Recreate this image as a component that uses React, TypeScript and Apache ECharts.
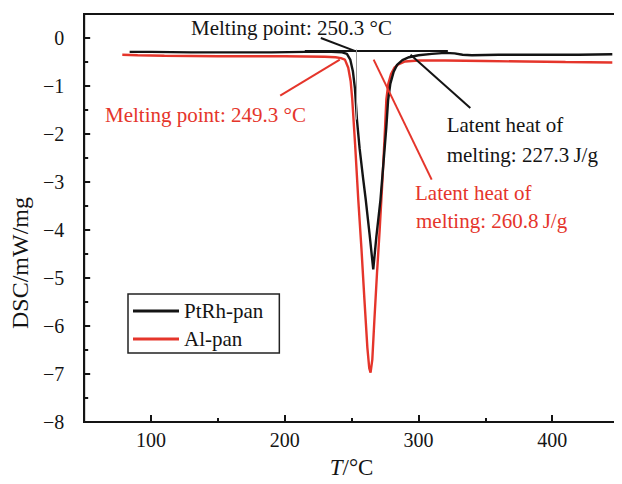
import React, { useEffect, useRef } from "react";
import * as echarts from "echarts";

// ---- data ----
const ptrhT = [84, 100, 130, 160, 190, 215, 235, 243, 246.5, 249, 251, 252.5, 254, 256, 258.5, 260.6, 263.5, 266.2, 268.5, 271.6, 274, 276, 277.3, 279, 281.5, 284, 288, 293, 300, 310, 320, 327, 333, 340, 360, 380, 400, 420, 445];
const ptrhV = [-0.29, -0.29, -0.3, -0.3, -0.3, -0.29, -0.29, -0.3, -0.33, -0.45, -0.7, -1.05, -1.7, -2.3, -2.9, -3.37, -4.1, -4.82, -4.15, -3.37, -2.55, -1.85, -1.3, -0.95, -0.7, -0.56, -0.46, -0.4, -0.36, -0.33, -0.31, -0.32, -0.35, -0.36, -0.35, -0.35, -0.35, -0.35, -0.34];

const alT = [78.5, 90, 110, 150, 200, 230, 238, 242, 245, 247.5, 249.3, 250.5, 252.6, 255, 257.4, 259.6, 261.8, 263.2, 264.2, 265.5, 267, 269, 271, 273, 274.8, 276, 277.5, 279.5, 282, 285, 290, 300, 320, 350, 380, 410, 445];
const alV = [-0.35, -0.36, -0.37, -0.38, -0.38, -0.39, -0.4, -0.42, -0.45, -0.62, -0.9, -1.28, -2.2, -3.37, -4.4, -5.45, -6.45, -6.88, -6.97, -6.7, -5.9, -4.9, -4.0, -3.0, -2.0, -1.28, -0.95, -0.75, -0.62, -0.55, -0.49, -0.47, -0.47, -0.48, -0.49, -0.5, -0.51];

const seriesNames = ["PtRh-pan", "Al-pan"];

// annotation leader lines, in data coordinates [T, DSC]
const blackMeltLeader = [[227, 0.0], [253.3, -0.28]];
const blackLatentLeader = [[294.1, -0.35], [338.8, -1.46]];
const blackBaseline = [[215, -0.27], [322, -0.27]];
const greyOnset = [[253.3, -0.24], [253.3, -1.7]];
const redMeltLeader = [[196.6, -1.2], [241.2, -0.45]];
const redLatentLeader = [[266.5, -0.45], [309.9, -2.95]];

const FONT = '"Liberation Serif", "Times New Roman", serif';
const BLACK = "#141414";
const RED = "#e5352b";

const seg = (p: number[][], style?: any) => [
  style ? { coord: p[0], lineStyle: style } : { coord: p[0] },
  { coord: p[1] },
];

export default function App() {
  const ref = useRef<HTMLDivElement>(null);
  useEffect(() => {
    if (!ref.current) return;
    const chart = echarts.init(ref.current, undefined, { renderer: "svg" });
    const txt = (text: string, x: number, y: number, color: string, size = 21) => ({
      type: "text",
      x,
      y,
      silent: true,
      style: { text, fill: color, font: `${size}px ${FONT}`, align: "left", verticalAlign: "middle" },
    });
    const tickStyle = { color: BLACK, width: 2 };
    chart.setOption({
      animation: false,
      backgroundColor: "#fff",
      grid: {
        left: 76,
        right: -7.8,
        top: 14,
        bottom: 61.3,
        show: true,
        borderColor: BLACK,
        borderWidth: 2,
        containLabel: false,
      },
      legend: {
        orient: "vertical",
        left: 128,
        top: 294,
        icon: "rect",
        itemWidth: 46,
        itemHeight: 3,
        itemGap: 6,
        padding: [6, 16, 3, 5],
        borderColor: "#222",
        borderWidth: 1.5,
        borderRadius: 0,
        data: seriesNames,
        textStyle: { fontFamily: FONT, fontSize: 21, color: BLACK, lineHeight: 22 },
      },
      xAxis: [
        {
          type: "value",
          min: 50,
          max: 450,
          splitNumber: 4,
          name: "{i|T}/°C",
          nameLocation: "middle",
          nameGap: 34,
          nameTextStyle: {
            fontFamily: FONT,
            fontSize: 23,
            color: BLACK,
            rich: { i: { fontFamily: FONT, fontSize: 23, fontStyle: "italic", color: BLACK } },
          },
          axisLine: { show: true, onZero: false, lineStyle: { color: BLACK, width: 2 } },
          axisTick: { show: true, inside: true, length: 7, lineStyle: tickStyle },
          axisLabel: {
            fontFamily: FONT,
            fontSize: 20,
            color: BLACK,
            margin: 8,
            formatter: (v: number) => (v % 100 === 0 ? String(v) : ""),
          },
          splitLine: { show: false },
        },
        {
          type: "value",
          min: 50,
          max: 450,
          interval: 100,
          position: "bottom",
          axisLine: { show: true, onZero: false, lineStyle: { color: BLACK, width: 2 } },
          axisTick: { show: true, inside: true, length: 4, lineStyle: tickStyle },
          axisLabel: { show: false },
          splitLine: { show: false },
        },
      ],
      yAxis: [
        {
          type: "value",
          min: -8,
          max: 0.5,
          interval: 1,
          name: "DSC/mW/mg",
          nameLocation: "middle",
          nameGap: 40,
          nameTextStyle: { fontFamily: FONT, fontSize: 24, color: BLACK, padding: [0, 90, 0, 0] },
          axisLine: { show: true, onZero: false, lineStyle: { color: BLACK, width: 2 } },
          axisTick: { show: true, inside: true, length: 6, lineStyle: tickStyle },
          axisLabel: {
            fontFamily: FONT,
            fontSize: 20,
            color: BLACK,
            margin: 20,
            formatter: (v: number) => (Number.isInteger(v) ? String(v).replace("-", "\u2212") : ""),
          },
          splitLine: { show: false },
        },
        {
          type: "value",
          min: -8,
          max: 0.5,
          interval: 0.5,
          position: "left",
          axisLine: { show: true, onZero: false, lineStyle: { color: BLACK, width: 2 } },
          axisTick: { show: true, inside: true, length: 4, lineStyle: tickStyle },
          axisLabel: { show: false },
          splitLine: { show: false },
        },
      ],
      series: [
        {
          name: seriesNames[0],
          type: "line",
          xAxisIndex: 0,
          yAxisIndex: 0,
          data: ptrhT.map((t, i) => [t, ptrhV[i]]),
          showSymbol: false,
          symbol: "none",
          lineStyle: { color: BLACK, width: 2.4 },
          itemStyle: { color: BLACK },
          z: 3,
          markLine: {
            silent: true,
            symbol: ["none", "none"],
            label: { show: false },
            lineStyle: { color: BLACK, width: 2, type: "solid" },
            data: [
              seg(blackMeltLeader),
              seg(blackLatentLeader),
              seg(blackBaseline),
              seg(greyOnset, { color: "#9a9a9a", width: 1, type: "solid" }),
            ],
          },
        },
        {
          name: seriesNames[1],
          type: "line",
          xAxisIndex: 0,
          yAxisIndex: 0,
          data: alT.map((t, i) => [t, alV[i]]),
          showSymbol: false,
          symbol: "none",
          lineStyle: { color: RED, width: 2.4 },
          itemStyle: { color: RED },
          z: 2,
          markLine: {
            silent: true,
            symbol: ["none", "none"],
            label: { show: false },
            lineStyle: { color: RED, width: 2, type: "solid" },
            data: [seg(redMeltLeader), seg(redLatentLeader)],
          },
        },
      ],
      graphic: [
        txt("Melting point: 250.3 \u00b0C", 191, 28, BLACK),
        txt("Melting point: 249.3 \u00b0C", 105, 114.6, RED),
        txt("Latent heat of", 446.7, 124.6, BLACK),
        txt("melting: 227.3\u2009J/g", 446.7, 154.6, BLACK),
        txt("Latent heat of", 415, 193, RED),
        txt("melting: 260.8\u2009J/g", 416, 221.3, RED),
      ],
    });
    return () => chart.dispose();
  }, []);
  return <div ref={ref} style={{ width: 622, height: 484, margin: -8 }} />;
}
